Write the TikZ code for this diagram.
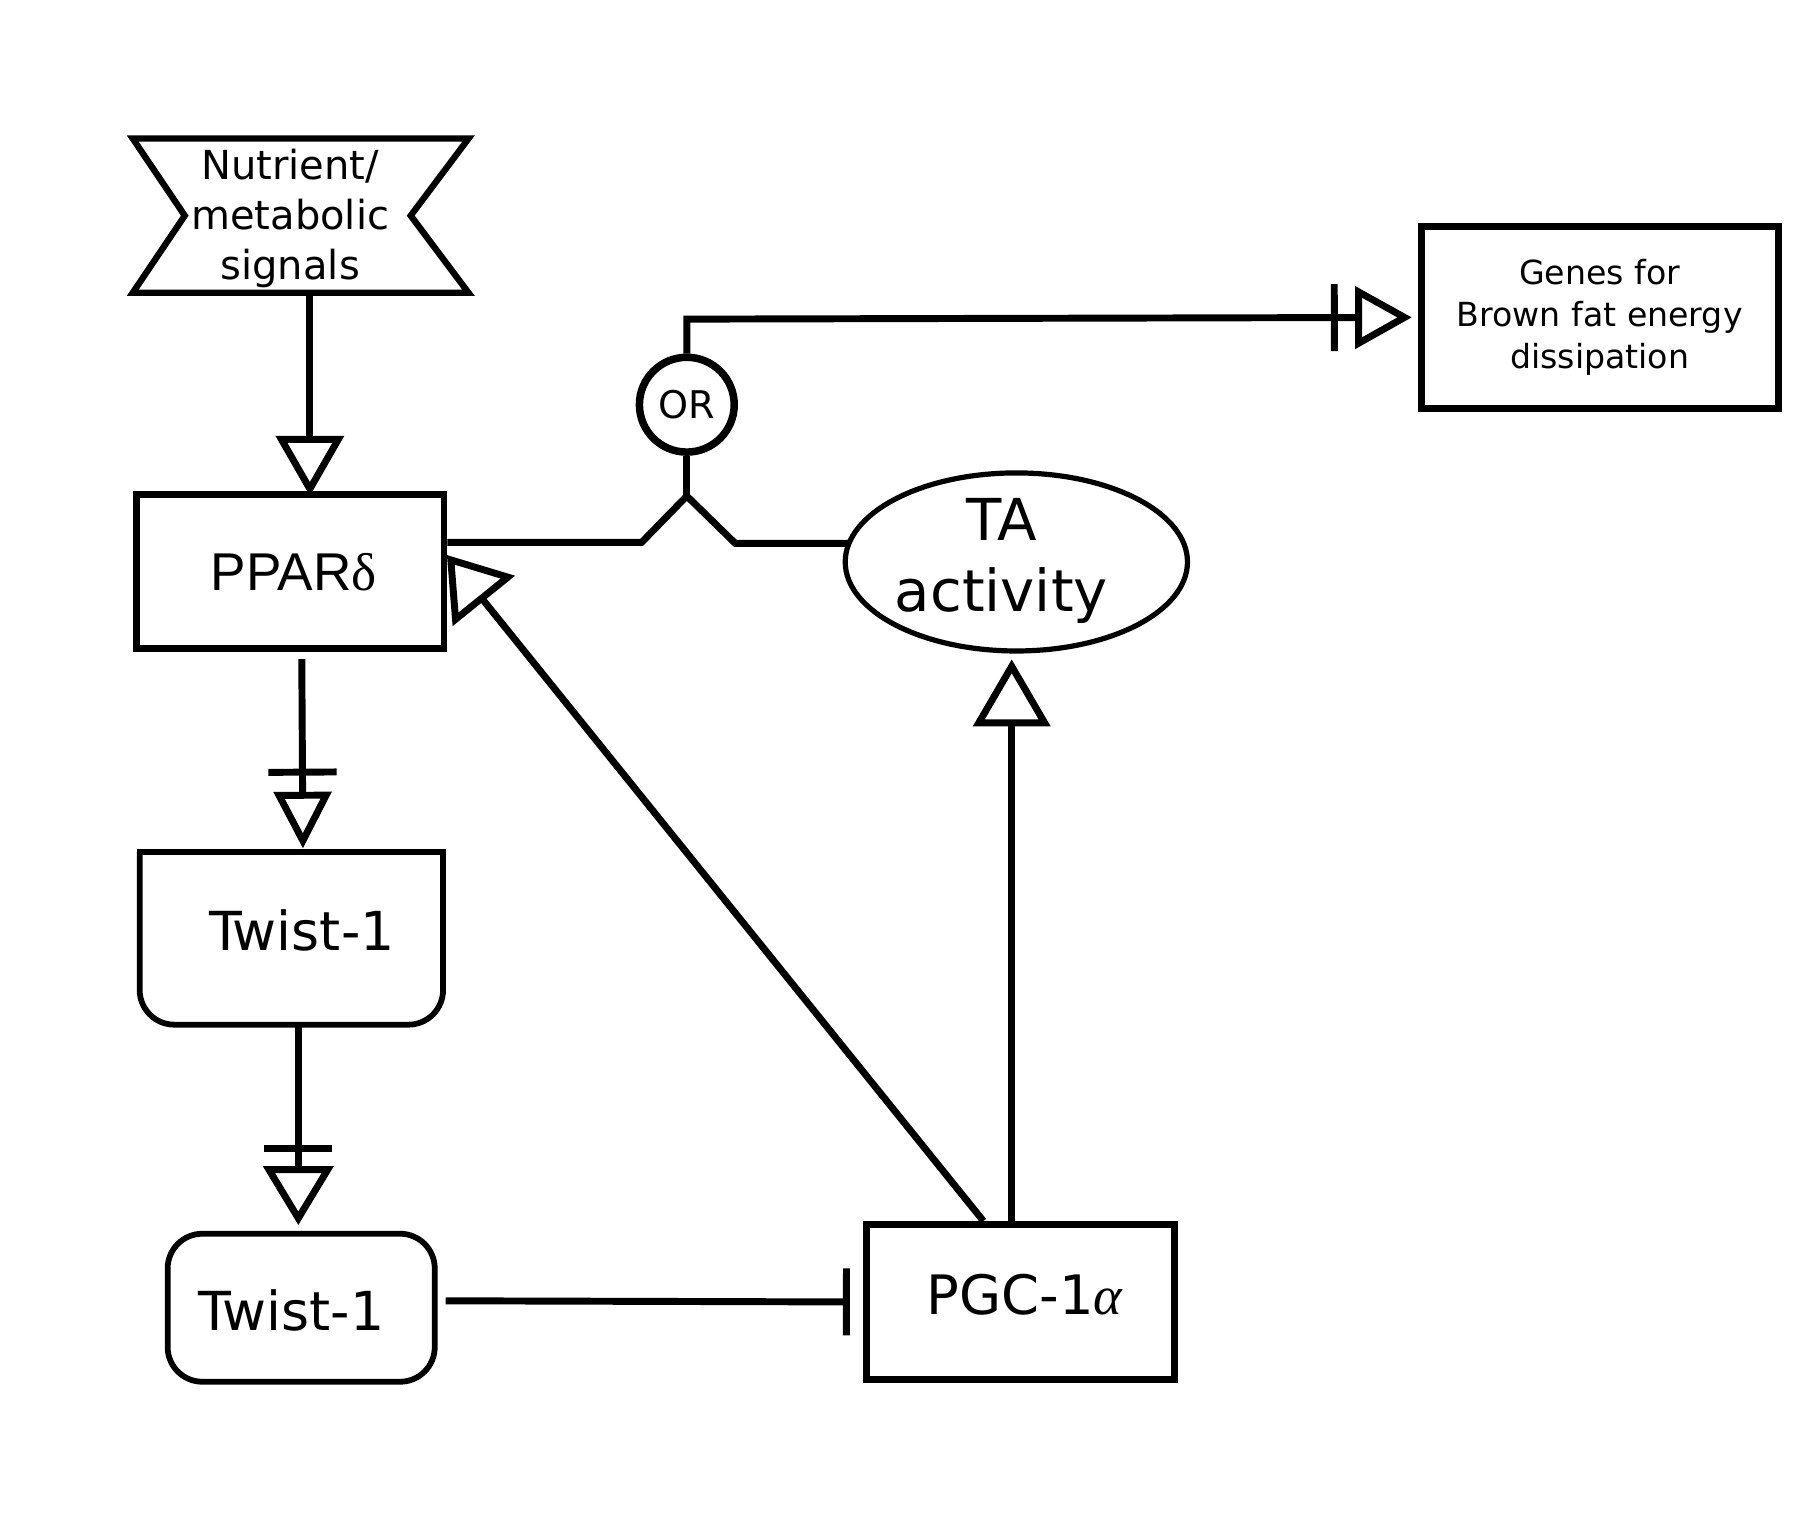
\documentclass[tikz,border=0pt]{standalone}
\usepackage{fontspec}
\setmainfont{DejaVu Sans}
\newfontfamily\arialf{Liberation Sans}
\newfontfamily\grk{Liberation Serif}
\usetikzlibrary{arrows.meta,shapes.geometric,calc}
\begin{document}
\begin{tikzpicture}[x=1pt,y=-1pt,
  box/.style={draw, line width=6pt, inner sep=0pt, rectangle},
  blank/.style={inner sep=0pt},
  ln/.style={line width=6pt},
  big/.style={font=\fontsize{46.5}{55}\selectfont},
]
\useasboundingbox[fill=white] (0,0) rectangle (1568,1331);

% Nutrient / metabolic signals
\node[blank, minimum width=290pt, minimum height=133pt] (nut) at (260,186.5) {};
\draw[line width=5.5pt, line join=miter] (nut.north west) -- (nut.north east)
  -- ($(nut.east)+(-50,0)$) -- (nut.south east) -- (nut.south west)
  -- ($(nut.west)+(45,0)$) -- cycle;
\node[font=\fontsize{34.6}{43}\selectfont, align=center, inner sep=0pt] (nutt) at (251,189) {Nutrient/\\metabolic\\signals};

% PPAR delta
\node[box, minimum width=266pt, minimum height=133pt, font=\arialf\fontsize{46}{55}\selectfont] (ppar) at (251,494.5) {\hspace*{6pt}PPAR{\grk δ}};

% Twist-1 (upper)
\node[blank, minimum width=262pt, minimum height=149pt] (tw1) at (252,811.5) {};
\draw[line width=5pt, rounded corners=30pt] (tw1.north west) -- (tw1.south west) -- (tw1.south east) -- (tw1.north east);
\draw[line width=5pt, line cap=rect] (tw1.north west) -- (tw1.north east);
\node[big, inner sep=0pt] (tw1t) at (261,805) {Twist-1};

% Twist-1 (lower)
\node[draw, line width=5pt, rounded corners=30pt, minimum width=231pt, minimum height=128pt, inner sep=0pt] (tw2) at (260.5,1131) {};
\node[big, inner sep=0pt] (tw2t) at (252,1133) {Twist-1};

% PGC-1 alpha
\node[box, minimum width=267pt, minimum height=134pt] (pgc) at (882.5,1126) {};
\node[font=\fontsize{47}{55}\selectfont, inner sep=0pt] (pgct) at (886,1120) {PGC-1{\grk\itshape α}};

% TA activity
\node[draw, ellipse, line width=4.5pt, minimum width=296pt, minimum height=154pt, inner sep=0pt] (ta) at (879,486) {};
\node[font=\fontsize{50}{62}\selectfont, align=center, inner sep=0pt] (tat) at (866,485) {TA\\activity};

% OR
\node[draw, circle, line width=6.5pt, minimum size=82pt, inner sep=0pt, font=\fontsize{33}{40}\selectfont] (or) at (594,350) {OR};

% Genes
\node[box, minimum width=309pt, minimum height=157pt, align=center, font=\fontsize{28.7}{36}\selectfont] (genes) at (1383.5,274.5) {Genes for\\Brown fat energy\\dissipation};

% connectors
\draw[ln, -{Triangle[open,length=52pt,width=58pt]}] ([xshift=8pt]nut.south) -- ([xshift=17pt,yshift=-4pt]ppar.north);
\draw[ln, -{Bar[width=59pt,sep=14pt]Triangle[open,length=49pt,width=49pt]}] ([xshift=10pt,yshift=-6pt]ppar.south) -- ([xshift=10pt,yshift=3pt]tw1.north);
\draw[ln, -{Bar[width=59pt,sep=12pt]Triangle[open,length=51pt,width=60pt]}] ([xshift=6pt,yshift=-2pt]tw1.south) -- ([xshift=-2.5pt,yshift=5pt]tw2.north);
\draw[ln, -{Bar[width=58pt]}] ([xshift=7pt,yshift=6pt]tw2.east) -- ([xshift=-11pt]pgc.west);
\draw[ln, -{Triangle[open,length=51pt,width=68pt]}] ([xshift=-32pt]pgc.north) -- ([xshift=-0.5pt,yshift=14.5pt]ppar.east);
\draw[ln, -{Triangle[open,length=58pt,width=66pt]}] ([xshift=-7.5pt]pgc.north) -- ([xshift=-4pt,yshift=-5pt]ta.south);

\coordinate (jl) at (555,469);
\coordinate (j) at (594,429);
\coordinate (jr) at (636,470);
\coordinate (k) at (594,276);
\draw[ln] (ppar.east |- jl) -- (jl) -- (j) -- (jr) -- ([xshift=5pt]ta.west |- jr);
\draw[ln] (j) -- (or.south);
\draw[ln, -{Bar[width=58pt,sep=15pt]Triangle[open,length=49pt,width=53pt]}] (or.north) -- (k) -- ([xshift=-5pt]genes.west);
\end{tikzpicture}
\end{document}
